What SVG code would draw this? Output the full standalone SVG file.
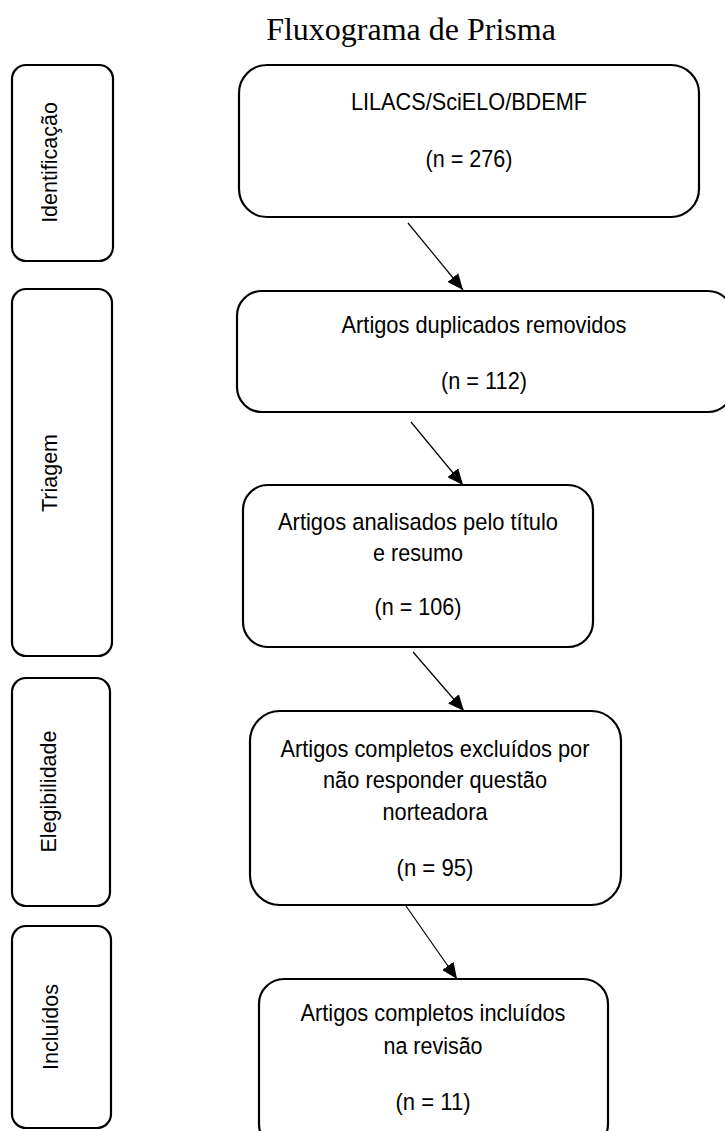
<svg xmlns="http://www.w3.org/2000/svg" width="725" height="1131" viewBox="0 0 725 1131">
<style>
.box{fill:#fff;stroke:#000;stroke-width:2.2}
.t{font-family:"Liberation Sans",Arial,sans-serif;font-size:24.5px;fill:#000;text-anchor:middle}
.lab{font-family:"Liberation Sans",Arial,sans-serif;font-size:21.5px;fill:#000;text-anchor:middle}
.title{font-family:"Liberation Serif","Times New Roman",serif;font-size:32px;fill:#000;text-anchor:middle}
.c{stroke:#000;stroke-width:1.2;fill:none;marker-end:url(#ah)}
</style>
<defs>
<marker id="ah" markerWidth="16" markerHeight="14" refX="16" refY="7" orient="auto" markerUnits="userSpaceOnUse">
<path d="M0,0 L16,7 L0,14 Z" fill="#000"/>
</marker>
</defs>
<rect width="725" height="1131" fill="#fff"/>
<text class="title" x="411" y="40">Fluxograma de Prisma</text>

<g id="stage-identificacao">
<rect class="box" x="12" y="65" width="101" height="196" rx="14"/>
<text class="lab" transform="translate(57,162.5) rotate(-90)">Identificação</text>
</g>
<g id="stage-triagem">
<rect class="box" x="12" y="289" width="100" height="367" rx="14"/>
<text class="lab" transform="translate(57,473) rotate(-90)">Triagem</text>
</g>
<g id="stage-elegibilidade">
<rect class="box" x="12" y="678" width="98" height="228" rx="14"/>
<text class="lab" transform="translate(56,791.5) rotate(-90)">Elegibilidade</text>
</g>
<g id="stage-incluidos">
<rect class="box" x="12" y="926" width="99" height="202" rx="14"/>
<text class="lab" transform="translate(58,1027) rotate(-90)">Incluídos</text>
</g>

<g id="node-bases">
<rect class="box" x="239" y="65" width="460" height="152" rx="28"/>
<text class="t" x="469" y="110" textLength="236" lengthAdjust="spacingAndGlyphs">LILACS/SciELO/BDEMF</text>
<text class="t" x="469" y="167" textLength="87" lengthAdjust="spacingAndGlyphs">(n = 276)</text>
</g>
<g id="node-duplicados">
<rect class="box" x="237" y="291" width="496" height="121" rx="25"/>
<text class="t" x="484" y="333" textLength="285" lengthAdjust="spacingAndGlyphs">Artigos duplicados removidos</text>
<text class="t" x="484" y="389" textLength="86" lengthAdjust="spacingAndGlyphs">(n = 112)</text>
</g>
<g id="node-analisados">
<rect class="box" x="243" y="485" width="350" height="162" rx="25"/>
<text class="t" x="418" y="530" textLength="280" lengthAdjust="spacingAndGlyphs">Artigos analisados pelo título</text>
<text class="t" x="418" y="561" textLength="90" lengthAdjust="spacingAndGlyphs">e resumo</text>
<text class="t" x="418" y="615" textLength="87" lengthAdjust="spacingAndGlyphs">(n = 106)</text>
</g>
<g id="node-excluidos">
<rect class="box" x="250" y="711" width="371" height="194" rx="30"/>
<text class="t" x="435" y="757" textLength="309" lengthAdjust="spacingAndGlyphs">Artigos completos excluídos por</text>
<text class="t" x="435" y="788" textLength="224" lengthAdjust="spacingAndGlyphs">não responder questão</text>
<text class="t" x="435" y="820" textLength="105" lengthAdjust="spacingAndGlyphs">norteadora</text>
<text class="t" x="435" y="876" textLength="77" lengthAdjust="spacingAndGlyphs">(n = 95)</text>
</g>
<g id="node-incluidos">
<rect class="box" x="259" y="979" width="349" height="170" rx="25"/>
<text class="t" x="433" y="1021" textLength="265" lengthAdjust="spacingAndGlyphs">Artigos completos incluídos</text>
<text class="t" x="433" y="1054" textLength="99" lengthAdjust="spacingAndGlyphs">na revisão</text>
<text class="t" x="433" y="1110" textLength="75" lengthAdjust="spacingAndGlyphs">(n = 11)</text>
</g>

<g id="connectors">
<line class="c" x1="408" y1="223" x2="463" y2="290"/>
<line class="c" x1="411" y1="422" x2="463" y2="485"/>
<line class="c" x1="413" y1="652" x2="464" y2="711"/>
<line class="c" x1="406" y1="906" x2="457" y2="979"/>
</g>
</svg>
